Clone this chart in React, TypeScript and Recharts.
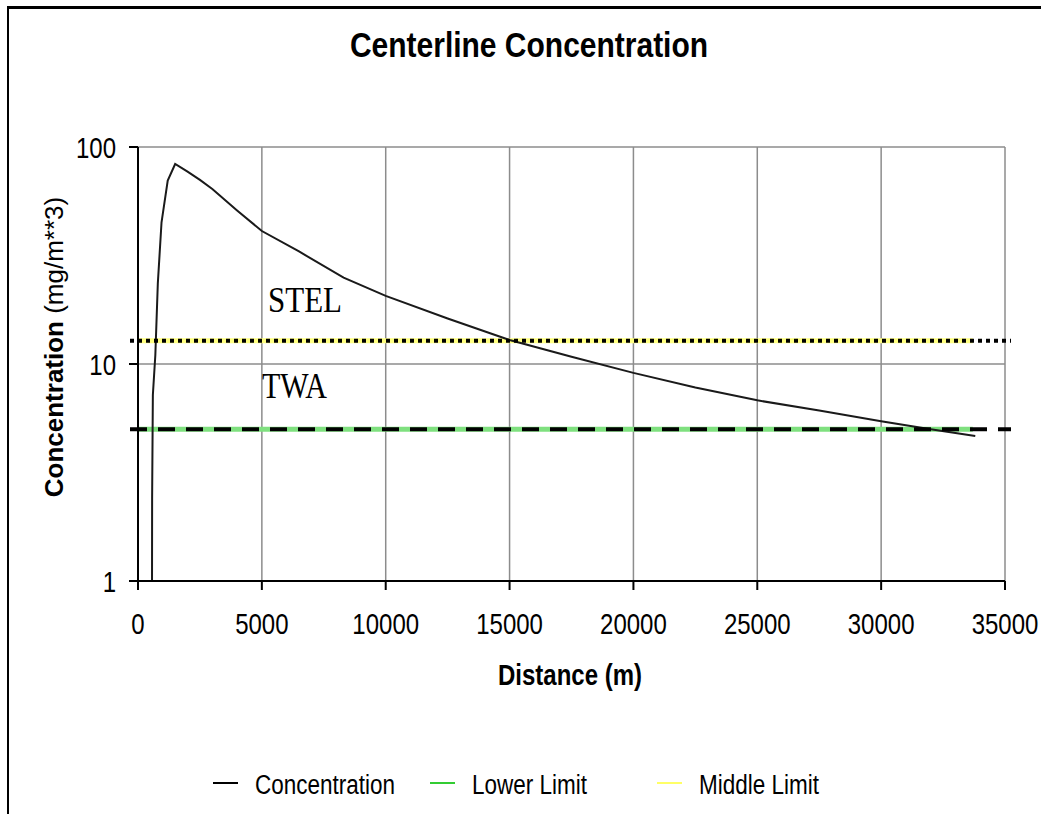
import { LineChart, Line, XAxis, YAxis, CartesianGrid, ReferenceLine, Legend } from 'recharts'

// Centerline concentration (distance in m, concentration in mg/m**3)
const distance = [560, 570, 600, 700, 800, 950, 1200, 1500, 2000, 2500, 3000, 4000, 5000, 6500, 8300, 10000, 12500, 15000, 17500, 20000, 22500, 25000, 27500, 30000, 32000, 33800]
const concentration = [0.3, 2.4, 7.2, 11, 23.5, 45, 70, 83.5, 77, 70.5, 64, 51, 41, 33, 25, 20.6, 16.2, 12.9, 10.8, 9.1, 7.8, 6.8, 6.1, 5.45, 5.0, 4.66]

const limitDistance = [0, 33700]
const lowerLimit = [5, 5]
const middleLimit = [12.8, 12.8]

const xTicks = [0, 5000, 10000, 15000, 20000, 25000, 30000, 35000]
const yTicks = [1, 10, 100]

const seriesNames = ['Concentration', 'Lower Limit', 'Middle Limit']

const concData = distance.map((d, i) => ({ d, v: concentration[i] }))
const lowerData = limitDistance.map((d, i) => ({ d, v: lowerLimit[i] }))
const middleData = limitDistance.map((d, i) => ({ d, v: middleLimit[i] }))

const SANS = 'Liberation Sans, Arial, sans-serif'
const SERIF = 'Liberation Serif, Times New Roman, serif'

const XTick = ({ x, y, payload }: any) => (
  <g transform={`translate(${x},${y + 42}) scale(1,1.22)`}>
    <text textAnchor="middle" fontFamily={SANS} fontSize={24} fill="#000">{payload.value}</text>
  </g>
)

const YTick = ({ x, y, payload }: any) => (
  <g transform={`translate(${x - 11},${y + 10.5}) scale(1,1.22)`}>
    <text textAnchor="end" fontFamily={SANS} fontSize={24} fill="#000">{payload.value}</text>
  </g>
)

// the hand drawn black lines run a little past the plot on both sides
const dottedShape = (p: any) => (
  <line x1={p.x1 - 8} y1={p.y1} x2={p.x2 + 6} y2={p.y2} stroke="#000" strokeWidth={4} strokeDasharray="4 4" />
)
const dashedShape = (p: any) => (
  <line x1={p.x1 - 8} y1={p.y1} x2={p.x2 + 6} y2={p.y2} stroke="#000" strokeWidth={4} strokeDasharray="17 11" />
)

const legendColors = ['#000000', '#33cc33', '#ffff66']
const legendLineX = [213, 430, 657]

const renderLegend = () => (
  <svg width={1041} height={50}>
    {seriesNames.map((name, i) => (
      <g key={name}>
        <line x1={legendLineX[i]} x2={legendLineX[i] + 25} y1={23} y2={23} stroke={legendColors[i]} strokeWidth={2} />
        <g transform={`translate(${legendLineX[i] + 42},34) scale(1,1.2)`}>
          <text fontFamily={SANS} fontSize={22.5} fill="#000">{name}</text>
        </g>
      </g>
    ))}
  </svg>
)

export default function App() {
  return (
    <div style={{ position: 'absolute', left: 0, top: 0, width: 1041, height: 814, background: '#fff', overflow: 'hidden' }}>
      <div style={{ position: 'absolute', left: 7, top: 6, width: 1040, height: 810, borderLeft: '2px solid #000', borderTop: '3px solid #000' }} />
      <LineChart width={1041} height={814} margin={{ top: 147, right: 36, bottom: 173, left: 78 }}>
        <CartesianGrid stroke="#8c8c8c" strokeWidth={1.5} />
        <XAxis
          type="number"
          dataKey="d"
          domain={[0, 35000]}
          ticks={xTicks}
          height={60}
          tickSize={9}
          tick={<XTick />}
          axisLine={{ stroke: '#000', strokeWidth: 2 }}
          tickLine={{ stroke: '#000', strokeWidth: 2 }}
        />
        <YAxis
          type="number"
          dataKey="v"
          scale="log"
          domain={[1, 100]}
          ticks={yTicks}
          allowDataOverflow
          width={60}
          tickSize={9}
          tick={<YTick />}
          axisLine={{ stroke: '#000', strokeWidth: 2 }}
          tickLine={{ stroke: '#000', strokeWidth: 2 }}
        />
        <Line data={lowerData} dataKey="v" name={seriesNames[1]} stroke="#7fe07f" strokeWidth={5} dot={false} isAnimationActive={false} />
        <Line data={middleData} dataKey="v" name={seriesNames[2]} stroke="#ffff80" strokeWidth={5} dot={false} isAnimationActive={false} />
        <Line data={concData} dataKey="v" name={seriesNames[0]} stroke="#1a1a1a" strokeWidth={2} dot={false} isAnimationActive={false} />
        <ReferenceLine y={middleLimit[0]} shape={dottedShape} />
        <ReferenceLine y={lowerLimit[0]} shape={dashedShape} />
        <Legend
          layout="horizontal"
          verticalAlign="middle"
          align="center"
          wrapperStyle={{ left: 0, top: 760, width: 1041, height: 50 }}
          content={renderLegend}
        />
      </LineChart>
      <svg width={1041} height={814} style={{ position: 'absolute', left: 0, top: 0, pointerEvents: 'none' }}>
        <g transform="translate(529,57) scale(1,1.16)">
          <text textAnchor="middle" fontFamily={SANS} fontWeight="bold" fontSize={30} fill="#000">Centerline Concentration</text>
        </g>
        <g transform="translate(570,685) scale(1,1.2)">
          <text textAnchor="middle" fontFamily={SANS} fontWeight="bold" fontSize={24} fill="#000">Distance (m)</text>
        </g>
        <g transform="translate(63,347) rotate(-90)">
          <text textAnchor="middle" fontFamily={SANS} fontSize={26} fill="#000">
            <tspan fontWeight="bold">Concentration</tspan> (mg/m**3)
          </text>
        </g>
        <g transform="translate(268,312) scale(1,1.17)">
          <text fontFamily={SERIF} fontSize={31} fill="#000">STEL</text>
        </g>
        <g transform="translate(262,398) scale(1,1.17)">
          <text fontFamily={SERIF} fontSize={30} fill="#000">TWA</text>
        </g>
      </svg>
    </div>
  )
}
